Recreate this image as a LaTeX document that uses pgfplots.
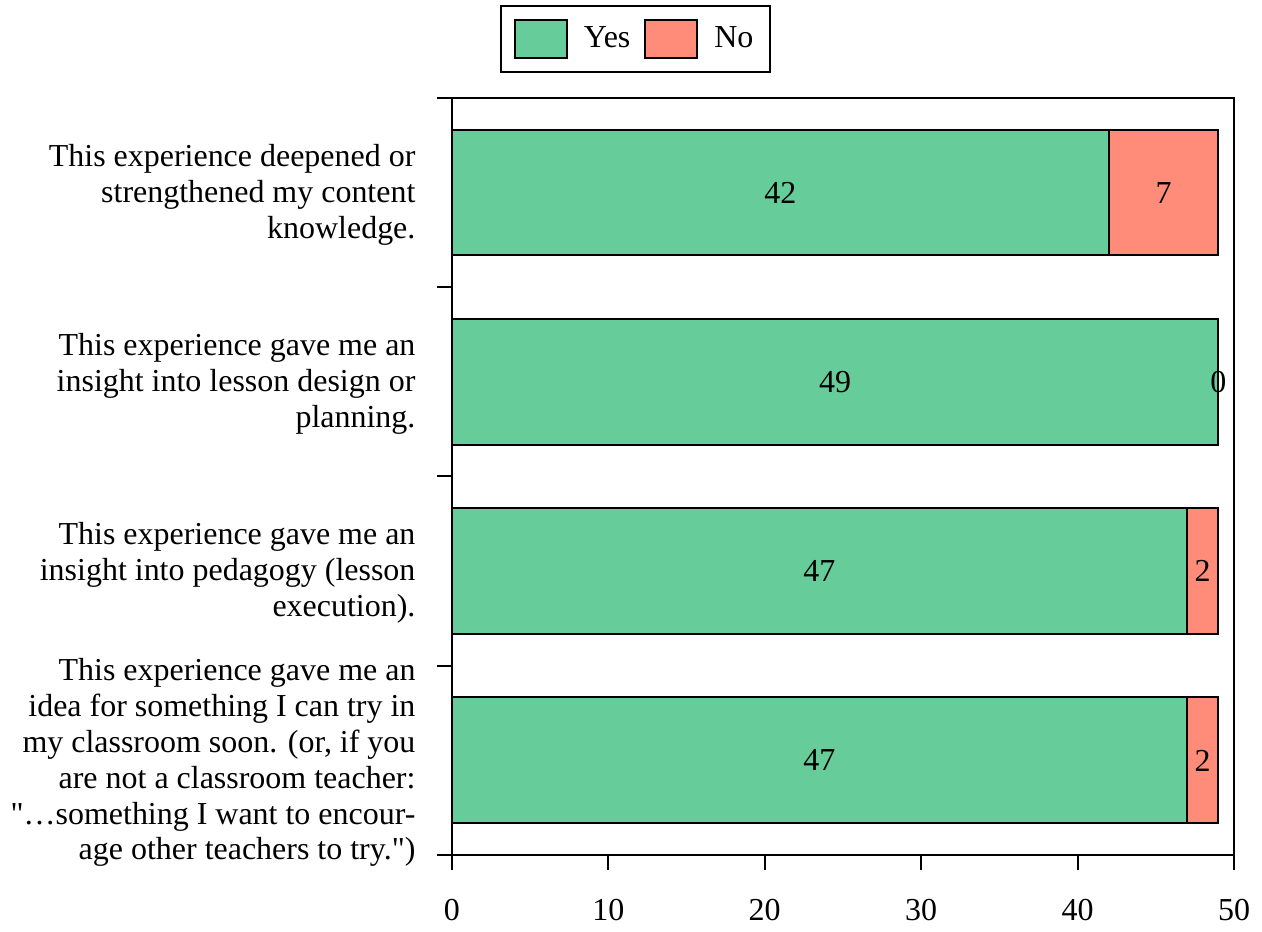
\documentclass[border=0pt]{standalone}
\usepackage{fontspec}
\setmainfont{Liberation Serif}[Ligatures=TeXOff]
\usepackage{pgfplots}
\usepackage{pgfplotstable}
\pgfplotsset{compat=1.18}
\definecolor{yesgreen}{HTML}{66CC99}
\definecolor{nosalmon}{HTML}{FF8C78}

% idx 0 = bottom statement
\pgfplotstableread{
idx yes no
0 47 2
1 47 2
2 49 0
3 42 7
}\answers

\begin{document}
\fontsize{16}{18}\selectfont
\begin{tikzpicture}
\begin{axis}[
  scale only axis, width=391.5pt, height=379pt,
  xbar stacked, bar width=63pt,
  xmin=0, xmax=50, ymin=-0.5, ymax=3.5,
  clip=false,
  xtick={0,10,...,50},
  ytick={-0.5,0.5,1.5,2.5,3.5},
  yticklabels={},
  extra y ticks={0,1,2,3},
  extra y tick labels={
    {This experience gave me an\\idea for something I can try in\\my classroom soon. (or, if you\\are not a classroom teacher:\\"…something I want to encour-\\age other teachers to try.")},
    {This experience gave me an\\insight into pedagogy (lesson\\execution).},
    {This experience gave me an\\insight into lesson design or\\planning.},
    {This experience deepened or\\strengthened my content\\knowledge.}
  },
  extra y tick style={major tick length=0pt, tick style={draw=none}},
  yticklabel style={align=right, xshift=-12.7pt, yshift=-1pt},
  xticklabel style={yshift=-9pt},
  /pgf/number format/assume math mode=true,
  tick align=outside, major tick length=7.5pt,
  xtick pos=lower, ytick pos=left,
  axis line style={line width=1pt},
  tick style={line width=1pt, black},
  legend columns=2,
  legend style={at={(rel axis cs:0.235,1.033)}, anchor=south,
    draw=black, line width=1pt, inner sep=6.5pt,
    /tikz/every odd column/.append style={column sep=6pt},
    /tikz/every even column/.append style={column sep=5pt}},
  legend image code/.code={\draw[#1, line width=1pt] (0pt,-9.5pt) rectangle (26pt,9.5pt);},
  visualization depends on=rawx \as \rawx,
  nodes near coords={\pgfmathprintnumber{\rawx}},
  every node near coord/.append style={anchor=center, black},
]
\addplot[fill=yesgreen, draw=black, line width=1pt] table[x=yes, y=idx] {\answers};
\addplot[fill=nosalmon, draw=black, line width=1pt] table[x=no, y=idx] {\answers};
\legend{Yes, No}
% the stacked bars print no label for the empty "No" segment (49 yes + 0 no)
\coordinate (zeroNo) at (axis cs:49,2);
\path (rel axis cs:-0.576,-0.0923) (rel axis cs:1.0358,1.1293);
\end{axis}
\node[anchor=center] at (zeroNo) {0};
\end{tikzpicture}
\end{document}
